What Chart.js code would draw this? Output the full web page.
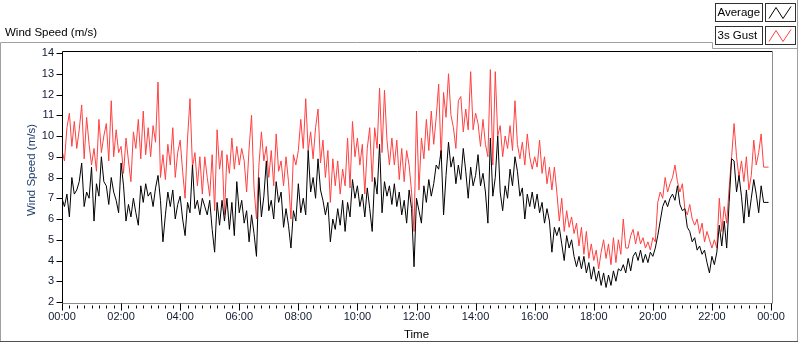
<!DOCTYPE html>
<html>
<head>
<meta charset="utf-8">
<script src="https://cdn.jsdelivr.net/npm/chart.js@4.4.1/dist/chart.umd.min.js"></script>
<style>
html,body{margin:0;padding:0;background:#fff;overflow:hidden}
#wrap{position:relative;width:800px;height:342px}
</style>
</head>
<body>
<div id="wrap"><canvas id="c" width="800" height="342"></canvas></div>
<script>
// ---- data, one value every 5 minutes starting 00:00 ----
const sampleMinutes = 5;
const averageSpeed = [
7.0,6.6,7.2,6.1,8.0,7.2,7.4,7.8,8.7,6.6,7.3,7.0,8.5,5.9,7.7,7.1,9.0,7.8,7.6,6.7,8.0,7.3,6.9,6.3,
8.7,7.6,5.9,6.7,6.1,7.0,6.3,5.7,7.6,6.8,7.7,7.1,7.3,6.6,7.5,8.1,6.9,4.9,6.2,7.3,6.6,7.4,6.0,6.7,
7.1,6.0,5.2,6.8,6.3,8.6,6.5,6.9,6.2,7.0,6.6,
6.2,6.9,5.5,4.4,6.8,5.7,6.9,5.9,7.0,5.5,6.8,5.2,7.8,6.3,6.9,5.8,6.4,4.9,6.2,5.3,4.2,8.0,6.1,7.1,
8.8,6.4,6.9,6.0,7.8,6.8,7.3,5.6,6.5,5.7,4.6,6.4,5.9,7.7,6.3,7.0,6.2,9.3,7.3,8.0,7.0,8.9,7.4,6.9,
6.2,6.8,4.9,6.0,5.5,6.5,5.7,6.9,
5.4,6.8,6.1,7.9,7.0,7.6,6.6,7.2,6.1,7.5,6.5,5.4,8.0,7.2,9.6,6.3,7.8,7.1,7.6,6.7,7.7,6.6,7.3,6.2,
6.9,5.8,7.4,6.5,3.7,7.0,6.4,5.8,7.6,6.8,7.9,7.1,7.7,8.6,8.4,9.3,6.2,8.1,9.7,8.5,9.0,7.7,8.6,7.9,
9.4,8.3,7.0,8.5,7.6,8.1,9.1,7.6,8.2,7.3,
5.8,9.9,7.1,8.0,10.0,7.3,6.4,7.6,7.0,8.4,7.6,9.0,8.3,7.1,7.5,6.0,7.2,6.6,7.3,6.5,7.2,6.3,6.8,5.8,
6.5,5.9,4.4,5.6,5.2,5.6,4.8,4.0,5.2,4.6,5.0,4.2,3.7,4.2,3.6,4.2,3.4,3.9,3.1,3.7,3.0,3.5,2.8,3.4,
2.7,3.3,2.8,3.5,3.0,3.6,3.5,3.8,3.4,
4.1,3.5,4.2,4.4,4.0,4.5,3.9,4.3,3.9,4.4,4.2,4.6,
5.2,5.9,6.6,6.9,6.6,7.0,7.2,6.9,7.6,6.7,6.4,6.5,5.6,5.4,4.9,5.1,4.5,4.7,4.3,4.5,3.9,3.4,4.2,3.8,
4.4,5.7,4.7,5.9,4.6,6.8,
8.9,8.8,7.3,8.1,7.1,5.8,7.4,6.1,7.0,7.9,7.2,6.3,7.6,6.8,6.8,6.8
];
const gustSpeed = [
9.3,8.8,10.4,11.1,9.5,10.7,9.4,10.3,11.5,8.9,10.9,9.6,8.6,9.4,8.3,10.8,9.2,10.0,10.6,8.8,11.7,9.0,10.3,9.2,
9.5,8.2,9.9,8.8,7.8,10.2,9.4,10.8,8.9,11.2,9.1,10.4,9.0,10.5,9.7,12.6,8.0,9.1,7.9,9.6,8.6,10.4,8.0,9.2,
9.8,8.3,7.0,9.9,11.8,8.5,9.2,7.6,9.0,7.2,9.0,
8.0,7.1,9.1,6.4,10.3,8.4,9.3,6.2,9.1,8.2,9.9,8.4,9.5,8.6,9.4,8.8,7.3,9.4,11.0,7.5,6.0,8.6,10.2,8.8,
9.5,8.0,9.3,7.6,10.1,8.3,8.8,7.6,9.0,7.8,6.0,9.1,8.6,9.3,10.8,9.4,11.8,9.3,10.2,8.9,10.4,11.3,8.7,9.8,
8.0,9.3,6.8,8.9,7.6,8.8,7.2,8.4,
7.6,9.9,7.5,10.7,9.0,9.9,8.6,9.6,7.2,9.4,10.4,7.8,10.4,9.4,12.3,9.2,12.2,9.8,8.6,9.9,8.6,9.8,7.9,9.4,
7.8,9.3,8.6,7.3,5.4,11.2,7.4,9.9,8.9,10.8,9.3,11.2,9.6,10.9,12.5,8.9,12.1,10.9,13.0,11.0,10.4,9.4,11.7,11.9,
10.2,11.3,10.3,13.1,10.3,11.1,10.6,9.5,10.8,9.6,
9.0,13.2,8.6,13.1,10.0,10.5,9.0,10.0,9.4,10.5,9.3,11.7,9.6,8.9,9.7,8.6,10.1,9.0,8.4,9.0,8.5,9.8,8.2,9.0,
7.7,8.5,7.4,8.5,7.3,5.9,7.0,5.4,6.4,5.6,6.1,5.3,5.8,4.7,5.6,4.3,5.4,4.1,4.8,4.0,4.5,3.6,4.4,5.0,
4.1,4.8,3.8,5.1,3.9,5.0,4.3,6.0,4.6,
4.6,5.2,5.5,4.8,5.4,4.8,5.1,4.6,4.9,4.5,5.1,4.9,
6.8,7.3,7.0,8.0,7.3,7.7,8.0,8.6,7.8,7.3,7.7,6.5,
6.2,6.7,6.0,5.7,6.0,5.3,5.8,4.9,5.4,5.0,4.6,5.0,4.6,
7.0,5.4,6.6,5.8,7.5,9.0,10.6,9.0,8.0,8.8,7.8,9.0,7.4,8.1,9.8,8.6,9.2,10.1,8.5,8.5,8.5
];
const seriesNames = ['Average', '3s Gust'];
const xTickLabels = ['00:00','02:00','04:00','06:00','08:00','10:00','12:00','14:00','16:00','18:00','20:00','22:00','00:00'];
const yTickValues = [2,3,4,5,6,7,8,9,10,11,12,13,14];
const panelTitle = 'Wind Speed (m/s)';
const yAxisTitle = 'Wind Speed (m/s)';
const xAxisTitle = 'Time';

// ---- style ----
const FONT = '"Liberation Sans", Arial, sans-serif';
const TICK_COLOR = '#101a30';
const Y_TITLE_COLOR = '#22406e';
const GUST_COLOR = '#ff4040';

const toPoints = arr => arr.map((v, i) => ({x: i * sampleMinutes, y: v}));

const chromePlugin = {
  id: 'chrome',
  afterDraw(chart) {
    const ctx = chart.ctx;
    const xs = chart.scales.x, ys = chart.scales.y;
    const ca = chart.chartArea;
    const fl = Math.round(ca.left) + 0.5, fr = Math.round(ca.right) + 1.5;
    const ft = Math.round(ca.top) - 1.5, fb = Math.round(ca.bottom) + 1.5;
    ctx.save();
    ctx.lineWidth = 1;
    // plot frame
    ctx.strokeStyle = '#000';
    ctx.beginPath(); ctx.moveTo(fl, fb); ctx.lineTo(fl, ft); ctx.lineTo(fr, ft); ctx.stroke();
    ctx.strokeStyle = '#8c8c8c';
    ctx.beginPath(); ctx.moveTo(fr, ft); ctx.lineTo(fr, fb); ctx.lineTo(fl, fb); ctx.stroke();
    // y tick marks
    ctx.strokeStyle = '#000';
    ctx.beginPath();
    yTickValues.forEach(v => {
      const y = Math.round(ys.getPixelForValue(v)) + 0.5;
      ctx.moveTo(fl - 6, y); ctx.lineTo(fl, y);
    });
    ctx.stroke();
    // x tick marks (major every 2h, minor every 15 min)
    ctx.beginPath();
    for (let m = 0; m <= 1440; m += 15) {
      const x = Math.round(xs.getPixelForValue(m)) + 0.5;
      const major = m % 120 === 0;
      ctx.moveTo(x, fb + (major ? 0 : 2)); ctx.lineTo(x, fb + (major ? 7 : 5));
    }
    ctx.stroke();
    // titles
    ctx.fillStyle = '#000';
    ctx.font = '11.5px ' + FONT;
    ctx.textBaseline = 'middle';
    ctx.textAlign = 'left';
    ctx.fillText(panelTitle, 5, 32.5);
    ctx.textAlign = 'center';
    ctx.fillStyle = '#000';
    ctx.fillText(xAxisTitle, (xs.left + xs.right) / 2, 334.5);
    ctx.save();
    ctx.translate(32, 170);
    ctx.rotate(-Math.PI / 2);
    ctx.fillStyle = Y_TITLE_COLOR;
    ctx.fillText(yAxisTitle, 0, 0);
    ctx.restore();
    // panel borders
    ctx.strokeStyle = '#a0a0a0';
    ctx.beginPath();
    ctx.moveTo(0.5, 341); ctx.lineTo(0.5, 42.5); ctx.lineTo(712.5, 42.5); ctx.lineTo(712.5, 48.5); ctx.lineTo(797.5, 48.5);
    ctx.moveTo(797.5, 0); ctx.lineTo(797.5, 342);
    ctx.stroke();
    ctx.strokeStyle = '#505050';
    ctx.beginPath(); ctx.moveTo(0, 341.5); ctx.lineTo(798, 341.5); ctx.stroke();
    // legend
    const colors = ['#000', GUST_COLOR];
    seriesNames.forEach((name, k) => {
      const y0 = 3.5 + k * 23;
      ctx.fillStyle = '#fff';
      ctx.fillRect(716, y0, 46, 18);
      ctx.strokeStyle = '#303030';
      ctx.strokeRect(715.5, y0, 47, 18);
      ctx.strokeRect(765.5, y0, 30, 18);
      ctx.fillStyle = '#000';
      ctx.textAlign = 'left';
      ctx.font = '11.5px ' + FONT;
      ctx.fillText(name, 717.5, y0 + 9.5);
      ctx.strokeStyle = colors[k];
      ctx.beginPath();
      ctx.moveTo(769, y0 + 15); ctx.lineTo(776, y0 + 4); ctx.lineTo(783, y0 + 15); ctx.lineTo(791, y0 + 3);
      ctx.stroke();
    });
    ctx.restore();
  }
};

new Chart(document.getElementById('c'), {
  type: 'line',
  data: {
    datasets: [
      {label: seriesNames[0], data: toPoints(averageSpeed), borderColor: '#000', borderWidth: 1, pointRadius: 0, tension: 0, order: 0},
      {label: seriesNames[1], data: toPoints(gustSpeed), borderColor: GUST_COLOR, borderWidth: 1, pointRadius: 0, tension: 0, order: 1}
    ]
  },
  options: {
    responsive: false,
    animation: false,
    devicePixelRatio: 1,
    layout: {padding: {left: 0, right: 29, top: 53, bottom: 0}},
    plugins: {legend: {display: false}, tooltip: {enabled: false}},
    scales: {
      x: {
        type: 'linear', min: 0, max: 1440,
        afterFit(s) { s.height = 40; },
        grid: {display: false, drawTicks: false},
        border: {display: false},
        ticks: {
          stepSize: 120, autoSkip: false, maxRotation: 0, padding: 8,
          color: TICK_COLOR, font: {family: FONT, size: 11},
          callback: v => xTickLabels[Math.round(v / 120)]
        }
      },
      y: {
        min: 2, max: 14,
        afterFit(s) { s.width = 62; },
        grid: {display: false, drawTicks: false},
        border: {display: false},
        ticks: {stepSize: 1, padding: 8, color: TICK_COLOR, font: {family: FONT, size: 11}}
      }
    }
  },
  plugins: [chromePlugin]
});
</script>
</body>
</html>
